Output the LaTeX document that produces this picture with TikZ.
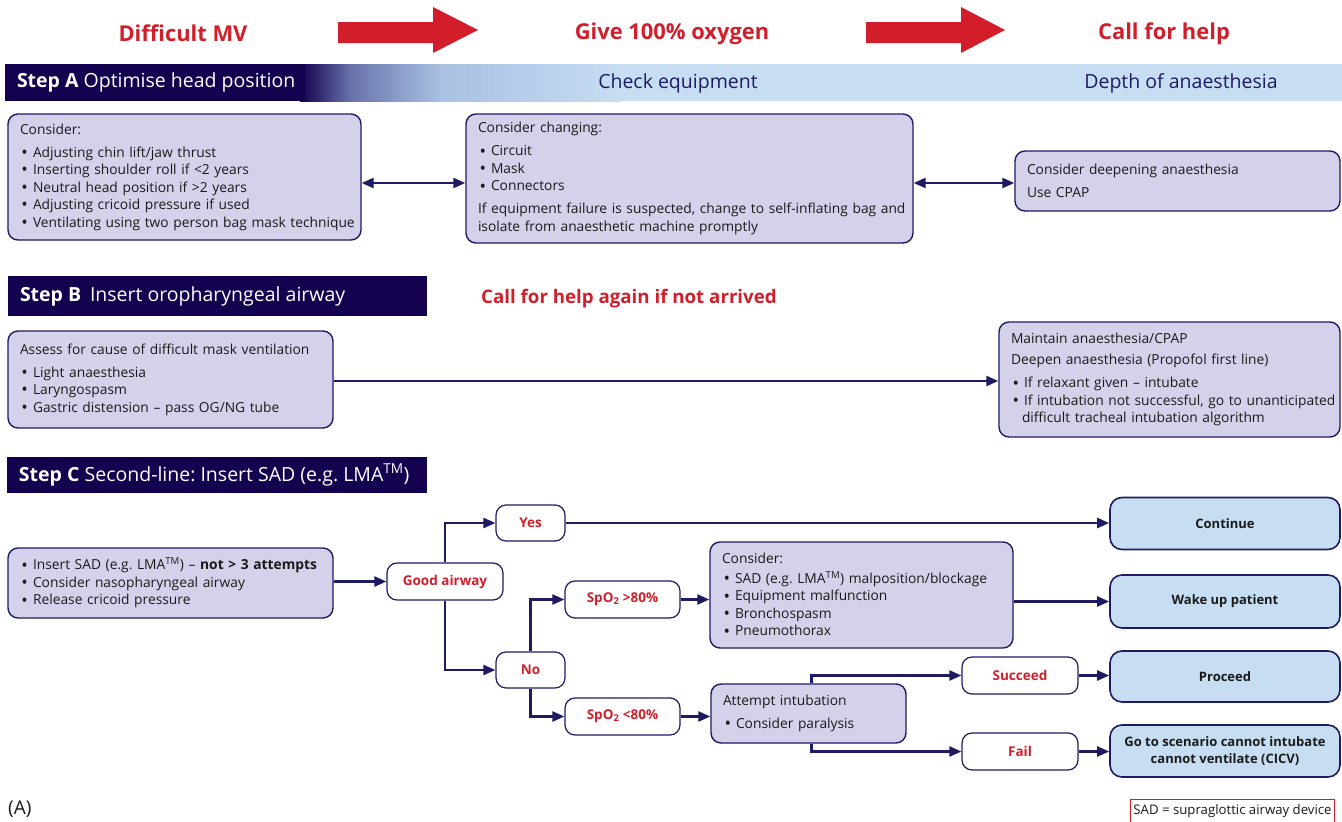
\documentclass[tikz,border=0pt]{standalone}
\usepackage{fontspec}
\setmainfont{Open Sans}
\usetikzlibrary{arrows.meta}
\frenchspacing
\definecolor{navy}{HTML}{1F1B62}
\definecolor{dark}{HTML}{13004F}
\definecolor{lav}{HTML}{D4D2EA}
\definecolor{lblue}{HTML}{C6DDF2}
\definecolor{myred}{HTML}{D21E2B}
\definecolor{ink}{HTML}{1A1A1A}
\definecolor{gmid}{HTML}{6A74AC}
\definecolor{gmid2}{HTML}{A9C1E2}
\pgfdeclarehorizontalshading{bannershade}{100bp}{color(0bp)=(dark); color(25bp)=(dark); color(33bp)=(gmid); color(47bp)=(gmid2); color(75bp)=(lblue); color(100bp)=(lblue)}
\newcommand\bulit[1]{\mbox{\makebox[13pt][l]{\hspace{1.5pt}\raisebox{-1.2pt}{\scalebox{1.25}{•}}}#1}}
\newcommand\bodyfont{\fontsize{13.8}{17.5}\selectfont}
\tikzset{
  body/.style={font=\bodyfont, text=ink},
  lavbox/.style={draw=navy, fill=lav, line width=1.4pt, rounded corners=10pt, align=left, inner xsep=12pt, inner ysep=4pt, body},
  pill/.style={draw=navy, fill=white, line width=1.2pt, rounded corners=10pt, font=\fontsize{13.5}{15}\selectfont\bfseries, text=myred, minimum height=37pt, inner sep=0pt},
  res/.style={draw=navy, fill=lblue, line width=1.6pt, rounded corners=12pt, font=\fontsize{13}{17}\selectfont\bfseries, text=ink, minimum width=230pt, minimum height=52pt, align=center, inner sep=0pt},
  arr/.style={draw=navy, line width=2.4pt, -{Triangle[length=12pt,width=10pt]}},
  dbl/.style={draw=navy, line width=2.4pt, {Triangle[length=12pt,width=10pt]}-{Triangle[length=12pt,width=10pt]}},
  banner/.style={fill=dark, inner xsep=12pt, inner ysep=0pt, text=white, font=\fontsize{19.5}{22}\selectfont},
  bannertxt/.style={text=navy, font=\fontsize{19.5}{22}\selectfont},
  title/.style={font=\fontsize{21.9}{24}\selectfont\bfseries, text=myred},
  bigarrow/.style={fill=myred}
}
\begin{document}
\begin{tikzpicture}[x=1pt,y=-1pt]
\useasboundingbox (0,0) rectangle (1342,822);
% titles
\node[title] (t1) at (183,33.5) {Difficult MV};
\node[title] (t2) at (672,33.5) {Give 100\% oxygen};
\node[title] (t3) at (1164,33.5) {Call for help};
\fill[bigarrow] (338,22) -- (433,22) -- (433,7) -- (478,30) -- (433,53) -- (433,43) -- (338,43) -- cycle;
\fill[bigarrow] (866,22) -- (961,22) -- (961,7) -- (1005,30) -- (961,53) -- (961,43) -- (866,43) -- cycle;
% banner A
\fill[lblue] (620,64) rectangle (1342,101);
\shade[shading=bannershade] (300,64) rectangle (621,101);
\node[banner, minimum width=300pt, minimum height=37pt] (stepA) at (155,82.5) {\makebox[276pt][l]{\textbf{Step A} Optimise head position}};
\node[bannertxt] (checkeq) at (678,83.5) {Check equipment};
\node[bannertxt] (depth) at (1181,83.5) {Depth of anaesthesia};
% row A boxes
\node[lavbox, minimum width=353pt, minimum height=126pt, text width=329pt] (a1) at (184.5,177) {Consider:\\[5.5pt]
\bulit{Adjusting chin lift/jaw thrust}\\
\bulit{Inserting shoulder roll if <2 years}\\
\bulit{Neutral head position if >2 years}\\
\bulit{Adjusting cricoid pressure if used}\\
\bulit{Ventilating using two person bag mask technique}};
\node[lavbox, minimum width=447pt, minimum height=129pt, text width=423pt] (a2) at (689.5,178.5) {Consider changing:\\[5.5pt]
\bulit{Circuit}\\
\bulit{Mask}\\
\bulit{Connectors}\\[5.5pt]
\mbox{If equipment failure is suspected, change to self-inflating bag and}\\
\mbox{isolate from anaesthetic machine promptly}};
\node[lavbox, minimum width=325pt, minimum height=60pt, text width=301pt] (a3) at (1177.5,181) {Consider deepening anaesthesia\\[5.5pt]
Use CPAP};
\draw[dbl] (a1.east |- 0,183) -- (a2.west |- 0,183);
\draw[dbl] (a2.east |- 0,183) -- (a3.west |- 0,183);
% banner B
\node[banner, minimum width=419pt, minimum height=40pt] (stepB) at (217.5,296) {\makebox[395pt][l]{\textbf{Step B}\hspace{0.45em}Insert oropharyngeal airway}};
\node[font=\fontsize{18.7}{21}\selectfont\bfseries, text=myred] (again) at (629,298.5) {Call for help again if not arrived};
\node[lavbox, minimum width=325pt, minimum height=97pt, text width=301pt] (b1) at (170.5,379.5) {\mbox{Assess for cause of difficult mask ventilation}\\[5.5pt]
\bulit{Light anaesthesia}\\
\bulit{Laryngospasm}\\
\bulit{Gastric distension -- pass OG/NG tube}};
\node[lavbox, minimum width=341pt, minimum height=115pt, text width=317pt] (b2) at (1169.5,379.5) {\mbox{Maintain anaesthesia/CPAP}\\[3.5pt]
\mbox{Deepen anaesthesia (Propofol first line)}\\[6pt]
\bulit{If relaxant given -- intubate}\\
\bulit{If intubation not successful, go to unanticipated}\\
\mbox{\hspace*{11pt}difficult tracheal intubation algorithm}};
\draw[arr] (b1.east |- 0,381) -- (b2.west |- 0,381);
% banner C
\node[banner, minimum width=420pt, minimum height=36pt] (stepC) at (217,475) {\makebox[396pt][l]{\textbf{Step C} Second-line: Insert SAD (e.g. LMA\textsuperscript{TM})}};
\node[lavbox, minimum width=325pt, minimum height=70pt, text width=301pt] (c1) at (170.5,583) {\bulit{Insert SAD (e.g. LMA\textsuperscript{TM}) -- \textbf{not > 3 attempts}}\\
\bulit{Consider nasopharyngeal airway}\\
\bulit{Release cricoid pressure}};
\node[pill, minimum width=116pt] (good) at (445,581.5) {Good airway};
\node[pill, minimum width=69pt, minimum height=36pt] (yes) at (530.5,523) {Yes};
\node[pill, minimum width=69pt, minimum height=36pt] (no) at (530.5,670) {No};
\node[pill, minimum width=115pt] (spo1) at (622.5,599.5) {SpO\textsubscript{2} >80\%};
\node[pill, minimum width=115pt] (spo2) at (622.5,716.5) {SpO\textsubscript{2} <80\%};
\node[lavbox, minimum width=303pt, minimum height=106pt, text width=279pt] (c2) at (861.5,595) {Consider:\\[2.5pt]
\bulit{SAD (e.g. LMA\textsuperscript{TM}) malposition/blockage}\\
\bulit{Equipment malfunction}\\
\bulit{Bronchospasm}\\
\bulit{Pneumothorax}};
\node[lavbox, minimum width=195pt, minimum height=59pt, text width=171pt] (att) at (808.5,713.5) {Attempt intubation\\[5.5pt]
\bulit{Consider paralysis}};
\node[pill, minimum width=116pt] (succ) at (1020,675.5) {Succeed};
\node[pill, minimum width=116pt] (fail) at (1020,751.5) {Fail};
\node[res] (cont) at (1225,523.5) {Continue};
\node[res, minimum height=53pt] (wake) at (1225,601.5) {Wake up patient};
\node[res, minimum height=51pt] (proc) at (1225,676.5) {Proceed};
\node[res] (cicv) at (1225,751) {Go to scenario cannot intubate\\cannot ventilate (CICV)};
% connectors C
\draw[arr] (c1.east |- good.west) -- (good.west);
\draw[arr] (good.north) |- (yes.west);
\draw[arr] (good.south) |- (no.west);
\draw[arr] (yes.east) -- (cont.west |- yes.east);
\draw[arr] (no.north) |- (spo1.west);
\draw[arr] (no.south) |- (spo2.west);
\draw[arr] (spo1.east) -- (c2.west |- spo1.east);
\draw[arr] (c2.east |- wake.west) -- (wake.west);
\draw[arr] (spo2.east) -- (att.west |- spo2.east);
\draw[arr] ([xshift=3pt]att.north) |- (succ.west);
\draw[arr] ([xshift=3pt]att.south) |- (fail.west);
\draw[arr] (succ.east) -- (proc.west |- succ.east);
\draw[arr] (fail.east) -- (cicv.west |- fail.east);
% footer
\node[anchor=north west, inner sep=0pt, font=\fontsize{19}{21}\selectfont, text=ink] (lblA) at (8,801) {(A)};
\node[anchor=north west, draw=myred, line width=0.9pt, inner xsep=3pt, inner ysep=5pt, text depth=12pt, font=\fontsize{13.2}{15}\selectfont, text=ink] (note) at (1130,799) {SAD = supraglottic airway device};
\end{tikzpicture}
\end{document}
